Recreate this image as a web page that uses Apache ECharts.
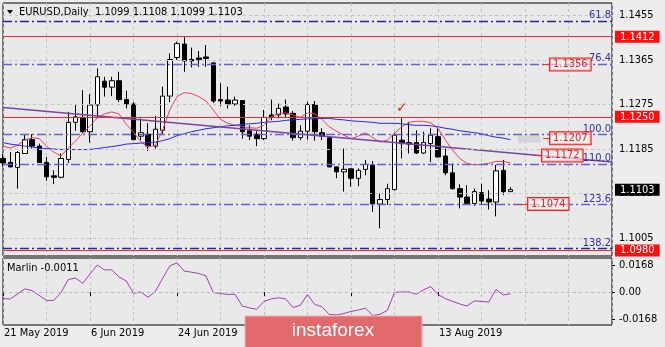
<!DOCTYPE html>
<html><head><meta charset="utf-8">
<script src="https://cdn.jsdelivr.net/npm/echarts@6/dist/echarts.min.js"></script>
<style>html,body{margin:0;padding:0;background:#ededed}#c{width:665px;height:347px}</style>
</head><body><div id="c"></div>
<script>
// ---------------- data ----------------
const dates = ['21 May 2019','22 May 2019','23 May 2019','24 May 2019','27 May 2019','28 May 2019','29 May 2019','30 May 2019','31 May 2019',
'3 Jun 2019','4 Jun 2019','5 Jun 2019','6 Jun 2019','7 Jun 2019','10 Jun 2019','11 Jun 2019','12 Jun 2019','13 Jun 2019','14 Jun 2019',
'17 Jun 2019','18 Jun 2019','19 Jun 2019','20 Jun 2019','21 Jun 2019','24 Jun 2019','25 Jun 2019','26 Jun 2019','27 Jun 2019','28 Jun 2019',
'1 Jul 2019','2 Jul 2019','3 Jul 2019','4 Jul 2019','5 Jul 2019','8 Jul 2019','9 Jul 2019','10 Jul 2019','11 Jul 2019','12 Jul 2019',
'15 Jul 2019','16 Jul 2019','17 Jul 2019','18 Jul 2019','19 Jul 2019','22 Jul 2019','23 Jul 2019','24 Jul 2019','25 Jul 2019','26 Jul 2019',
'29 Jul 2019','30 Jul 2019','31 Jul 2019','1 Aug 2019','2 Aug 2019','5 Aug 2019','6 Aug 2019','7 Aug 2019','8 Aug 2019','9 Aug 2019',
'12 Aug 2019','13 Aug 2019','14 Aug 2019','15 Aug 2019','16 Aug 2019','19 Aug 2019','20 Aug 2019','21 Aug 2019','22 Aug 2019','23 Aug 2019',
'26 Aug 2019','27 Aug 2019'];
const futureDates = ['28 Aug 2019','29 Aug 2019','30 Aug 2019','2 Sep 2019','3 Sep 2019','4 Sep 2019','5 Sep 2019','6 Sep 2019','9 Sep 2019','10 Sep 2019','11 Sep 2019','12 Sep 2019','13 Sep 2019','16 Sep 2019'];
const xTickLabels = ['21 May 2019','6 Jun 2019','24 Jun 2019','10 Jul 2019','26 Jul 2019','13 Aug 2019'];
// [open, high, low, close]
const candles = [
[1.1166,1.1175,1.1150,1.1157],[1.1158,1.1179,1.1148,1.1149],[1.1148,1.1181,1.1105,1.1178],[1.1176,1.1215,1.1175,1.1204],
[1.1204,1.1215,1.1186,1.1191],[1.1191,1.1196,1.1157,1.1158],[1.1158,1.1169,1.1121,1.1129],[1.1131,1.1142,1.1114,1.1128],
[1.1128,1.1176,1.1126,1.1166],[1.1164,1.1260,1.1157,1.1239],[1.1239,1.1276,1.1222,1.1250],[1.1249,1.1304,1.1218,1.1220],
[1.1220,1.1296,1.1198,1.1274],[1.1274,1.1348,1.1250,1.1331],[1.1322,1.1331,1.1291,1.1310],[1.1310,1.1331,1.1292,1.1323],
[1.1323,1.1341,1.1280,1.1285],[1.1285,1.1303,1.1267,1.1276],[1.1276,1.1280,1.1203,1.1204],[1.1211,1.1247,1.1203,1.1218],
[1.1215,1.1237,1.1181,1.1191],[1.1191,1.1252,1.1186,1.1225],[1.1223,1.1311,1.1216,1.1292],[1.1292,1.1378,1.1280,1.1366],
[1.1370,1.1402,1.1365,1.1398],[1.1397,1.1411,1.1341,1.1363],[1.1366,1.1390,1.1350,1.1363],[1.1369,1.1383,1.1351,1.1366],
[1.1371,1.1395,1.1351,1.1368],[1.1359,1.1361,1.1278,1.1282],[1.1285,1.1318,1.1272,1.1282],[1.1284,1.1311,1.1267,1.1276],
[1.1276,1.1291,1.1272,1.1284],[1.1283,1.1284,1.1206,1.1220],[1.1222,1.1233,1.1203,1.1211],[1.1215,1.1222,1.1191,1.1206],
[1.1206,1.1264,1.1203,1.1249],[1.1254,1.1285,1.1243,1.1250],[1.1254,1.1277,1.1247,1.1267],[1.1270,1.1285,1.1250,1.1256],
[1.1257,1.1262,1.1202,1.1208],[1.1208,1.1233,1.1203,1.1221],[1.1221,1.1280,1.1204,1.1275],[1.1275,1.1282,1.1202,1.1220],
[1.1218,1.1227,1.1203,1.1211],[1.1208,1.1211,1.1148,1.1149],[1.1149,1.1150,1.1126,1.1139],[1.1139,1.1186,1.1099,1.1144],
[1.1145,1.1146,1.1109,1.1126],[1.1126,1.1146,1.1110,1.1142],[1.1144,1.1163,1.1132,1.1154],[1.1153,1.1161,1.1058,1.1074],
[1.1074,1.1095,1.1025,1.1083],[1.1083,1.1115,1.1072,1.1105],[1.1103,1.1218,1.1102,1.1213],[1.1203,1.1247,1.1166,1.1196],
[1.1198,1.1240,1.1176,1.1195],[1.1198,1.1223,1.1175,1.1177],[1.1177,1.1220,1.1175,1.1198],[1.1196,1.1227,1.1159,1.1213],
[1.1210,1.1227,1.1168,1.1169],[1.1171,1.1186,1.1132,1.1137],[1.1137,1.1156,1.1103,1.1105],[1.1105,1.1114,1.1065,1.1088],
[1.1088,1.1112,1.1074,1.1075],[1.1075,1.1105,1.1070,1.1099],[1.1097,1.1115,1.1074,1.1080],[1.1084,1.1102,1.1063,1.1078],
[1.1078,1.1153,1.1049,1.1141],[1.1142,1.1163,1.1092,1.1099],[1.1099,1.1108,1.1099,1.1103]];
const redMA = [1.1191,1.1187,1.1193,1.1203,1.1208,1.1206,1.1191,1.1179,1.1171,1.1187,
1.1201,1.1217,1.1232,1.1248,1.1256,1.1260,1.1256,1.1235,1.1219,1.1200,
1.1189,1.1193,1.1223,1.1264,1.1291,1.1299,1.1297,1.1291,1.1282,1.1264,
1.1245,1.1237,1.1233,1.1231,1.1228,1.1227,1.1233,1.1250,1.1257,1.1258,
1.1254,1.1249,1.1258,1.1256,1.1245,1.1230,1.1221,1.1213,1.1206,1.1211,
1.1218,1.1208,1.1199,1.1203,1.1217,1.1230,1.1239,1.1241,1.1241,1.1238,
1.1227,1.1204,1.1183,1.1166,1.1156,1.1153,1.1154,1.1156,1.1160,1.1160,1.1157];
const blueMA = [1.1198,1.1195,1.1193,1.1191,1.1189,1.1187,1.1186,1.1185,1.1184,1.1184,
1.1184,1.1184,1.1184,1.1186,1.1188,1.1190,1.1192,1.1195,1.1196,1.1197,
1.1198,1.1199,1.1202,1.1206,1.1212,1.1216,1.1220,1.1223,1.1226,1.1228,
1.1230,1.1232,1.1233,1.1235,1.1236,1.1237,1.1239,1.1240,1.1241,1.1243,
1.1244,1.1245,1.1246,1.1246,1.1247,1.1247,1.1245,1.1244,1.1242,1.1241,
1.1240,1.1239,1.1237,1.1237,1.1237,1.1236,1.1234,1.1233,1.1233,1.1232,
1.1230,1.1227,1.1225,1.1222,1.1220,1.1218,1.1216,1.1212,1.1209,1.1207,1.1204];
const trendLine = [[0,1.1269],[84,1.1159]];
const marlin = [-0.0041,-0.0044,-0.0013,0.0019,0.0009,-0.0022,-0.0053,-0.0053,-0.0003,0.0078,
0.0088,0.0054,0.0113,0.0169,0.0138,0.0139,0.0094,0.0069,-0.0008,0.0000,
-0.0033,0.0003,0.0084,0.0163,0.0183,0.0131,0.0124,0.0116,0.0100,-0.0004,
-0.0009,-0.0016,-0.0014,-0.0088,-0.0100,-0.0108,-0.0059,-0.0044,-0.0036,-0.0044,
-0.0097,-0.0084,-0.0016,-0.0078,-0.0093,-0.0141,-0.0144,-0.0135,-0.0122,-0.0113,
-0.0102,-0.0147,-0.0140,-0.0116,-0.0003,0.0000,0.0000,-0.0014,0.0013,0.0034,
-0.0016,-0.0041,-0.0059,-0.0075,-0.0088,-0.0056,-0.0059,-0.0063,0.0016,-0.0019,-0.0011];
const yTicks = [1.1005,1.1095,1.1185,1.1275,1.1365,1.1455];
const marlinTicks = [-0.0168,0,0.0168];
const fibNames = ['61.8','76.4','100.0','110.0','123.6','138.2'];
const fibValues = [1.1444,1.1357,1.1215,1.1155,1.1073,1.0984];
const redLevels = [1.1412,1.1250,1.0980];
const priceBoxes = [1.1356,1.1207,1.1172,1.1074];
const currentPrice = 1.1103;
const title = 'EURUSD,Daily  1.1099 1.1108 1.1099 1.1103';
const marlinTitle = 'Marlin -0.0011';

// ---------------- chart ----------------
const FONT = "'DejaVu Sans Condensed','Liberation Sans',sans-serif";
const cats = dates.concat(futureDates);
const chart = echarts.init(document.getElementById('c'));
const PLOT_BG = '#e9e9e9';

const gridML = yTicks.map(v => ({yAxis: v, lineStyle: {color: '#c2c2c2', type: [3, 3], width: 1}, label: {show: false}}));
const levelML = [];
fibValues.forEach((v, i) => levelML.push({
  yAxis: v,
  lineStyle: {color: (i === 0 || i === 5) ? '#262699' : '#6363cc', type: [9, 3, 2, 3], width: 1.3},
  label: {show: true, position: 'insideEndTop', formatter: fibNames[i], color: '#32329a', fontSize: 11, fontFamily: FONT, distance: [1, 0]}
}));
redLevels.forEach(v => levelML.push({
  yAxis: v,
  lineStyle: {color: '#f02a2a', type: 'solid', width: 1},
  label: {show: true, position: 'end', formatter: v.toFixed(4), color: '#fff', backgroundColor: '#ff0d0d', padding: [1, 5, 0, 5], distance: 3, fontSize: 11, fontFamily: FONT}
}));
levelML.push({
  yAxis: currentPrice,
  lineStyle: {color: 'rgba(0,0,0,0)', width: 1},
  label: {show: true, position: 'end', formatter: currentPrice.toFixed(4), color: '#fff', backgroundColor: '#000', padding: [1, 5, 0, 5], distance: 3, fontSize: 11, fontFamily: FONT}
});
// annotation box anchors (x in bar units on the helper value axis)
const boxX = [[74.5, 75.45], [74.5, 75.45], [73.1, 74.35], [71.0, 72.4]];
priceBoxes.forEach((v, i) => levelML.push([
  {coord: [boxX[i][0], v]},
  {coord: [boxX[i][1], v], lineStyle: {color: '#f03030', width: 1, type: 'solid'},
   label: {show: true, position: 'end', distance: 0, formatter: v.toFixed(4), color: '#f02020', borderColor: '#f02020', borderWidth: 1,
     backgroundColor: 'rgba(245,245,245,0.6)', padding: [1, 3, 0, 3], fontSize: 11, fontFamily: FONT}}
]));

const option = {
  animation: false,
  backgroundColor: '#ededed',
  grid: [
    {left: 3, top: 3, width: 609, height: 253, show: true, backgroundColor: PLOT_BG, borderColor: '#000', borderWidth: 1, outerBoundsMode: 'none'},
    {left: 3, top: 258, width: 609, height: 67, show: true, backgroundColor: PLOT_BG, borderColor: '#000', borderWidth: 1, outerBoundsMode: 'none'}
  ],
  xAxis: [
    {type: 'category', gridIndex: 0, data: cats, boundaryGap: false,
     axisLine: {show: false}, axisTick: {show: false}, axisLabel: {show: false},
     splitLine: {show: true, interval: (i) => i % 6 === 0, lineStyle: {color: '#c2c2c2', type: [3, 3]}}},
    {type: 'category', gridIndex: 1, data: cats, boundaryGap: false,
     axisLine: {show: false},
     axisTick: {show: true, interval: (i, v) => xTickLabels.includes(v), length: 4, lineStyle: {color: '#000'}},
     axisLabel: {show: true, interval: (i, v) => xTickLabels.includes(v), align: 'left', margin: 3, color: '#000', fontSize: 11, fontFamily: FONT, padding: [0, 0, 0, 1]},
     splitLine: {show: true, interval: (i) => i % 6 === 0, lineStyle: {color: '#c2c2c2', type: [3, 3]}}},
    {type: 'value', gridIndex: 0, min: 0, max: 84, show: false}
  ],
  yAxis: [
    {type: 'value', gridIndex: 0, position: 'right', min: 1.0969, max: 1.1480, scale: true,
     axisLine: {show: false}, splitLine: {show: false},
     axisTick: {show: true, customValues: yTicks, length: 3, lineStyle: {color: '#000'}},
     axisLabel: {show: true, customValues: yTicks, formatter: v => v.toFixed(4), margin: 7, color: '#000', fontSize: 11, fontFamily: FONT}},
    {type: 'value', gridIndex: 1, position: 'right', min: -0.0207, max: 0.0213,
     axisLine: {show: false}, splitLine: {show: false},
     axisTick: {show: true, customValues: marlinTicks, length: 3, lineStyle: {color: '#000'}},
     axisLabel: {show: true, customValues: marlinTicks, formatter: v => (v === 0 ? '0.00' : v.toFixed(4)), margin: 7, color: '#000', fontSize: 11, fontFamily: FONT}}
  ],
  series: [
    {type: 'line', name: 'grid', xAxisIndex: 2, yAxisIndex: 0, data: [], z: 1,
     markLine: {silent: true, precision: 6, symbol: ['none', 'none'], animation: false, data: gridML}},
    {type: 'candlestick', xAxisIndex: 0, yAxisIndex: 0, barWidth: 5, clip: true,
     data: candles.map(c => [c[0], c[3], c[2], c[1]]),
     itemStyle: {color: '#ffffff', color0: '#000000', borderColor: '#000000', borderColor0: '#000000', borderWidth: 1},
     z: 3},
    {type: 'line', name: 'MA fast', xAxisIndex: 0, yAxisIndex: 0, data: redMA, symbol: 'none',
     lineStyle: {color: '#ee4058', width: 1}, z: 4},
    {type: 'line', name: 'MA slow', xAxisIndex: 0, yAxisIndex: 0, data: blueMA, symbol: 'none',
     lineStyle: {color: '#2626f2', width: 1}, z: 4},
    {type: 'line', name: 'trend', xAxisIndex: 2, yAxisIndex: 0, data: trendLine, symbol: 'none',
     lineStyle: {color: '#7a44a8', width: 1.6}, z: 4},
    {type: 'line', name: 'levels', xAxisIndex: 2, yAxisIndex: 0, data: [], z: 5,
     markLine: {silent: true, precision: 6, symbol: ['none', 'none'], animation: false, data: levelML},
     markArea: {silent: true, data: [[{coord: [71.0, 1.1213]}, {coord: [74.1, 1.1198]}]], itemStyle: {color: '#d5d5d5'}},
     markPoint: {silent: true, symbol: 'rect', symbolSize: 1, itemStyle: {color: 'rgba(0,0,0,0)'},
       data: [{coord: [55, 1.1267], label: {show: true, formatter: '\u2713', color: '#f01e1e', fontSize: 14, fontWeight: 'bold', fontFamily: 'DejaVu Sans', position: 'inside'}}]}},
    {type: 'line', name: 'Marlin', xAxisIndex: 1, yAxisIndex: 1, data: marlin, symbol: 'none',
     lineStyle: {color: '#a23cb4', width: 1}, z: 4,
     markLine: {silent: true, precision: 6, symbol: ['none', 'none'], animation: false,
       data: [{yAxis: 0, lineStyle: {color: '#b8b8b8', type: [3, 3], width: 1}, label: {show: false}}]}}
  ],
  graphic: [
    {type: 'polygon', shape: {points: [[7, 10], [13, 10], [10, 14]]}, style: {fill: '#000'}, z: 100},
    {type: 'text', style: {x: 19, y: 12, text: title, fill: '#000', font: '11px ' + FONT, verticalAlign: 'middle'}, z: 100},
    {type: 'text', style: {x: 7, y: 268, text: marlinTitle, fill: '#000', font: '11px ' + FONT, verticalAlign: 'middle'}, z: 100},
    {type: 'rect', shape: {x: 245, y: 316, width: 177, height: 36}, style: {fill: '#e26a6d', stroke: '#f2b0b0', lineWidth: 1}, z: 100},
    {type: 'text', style: {x: 333, y: 331, text: 'instaforex', fill: '#fff', font: '19px "Liberation Sans", sans-serif', align: 'center', verticalAlign: 'middle'}, z: 101}
  ]
};
chart.setOption(option);
</script>
</body></html>
